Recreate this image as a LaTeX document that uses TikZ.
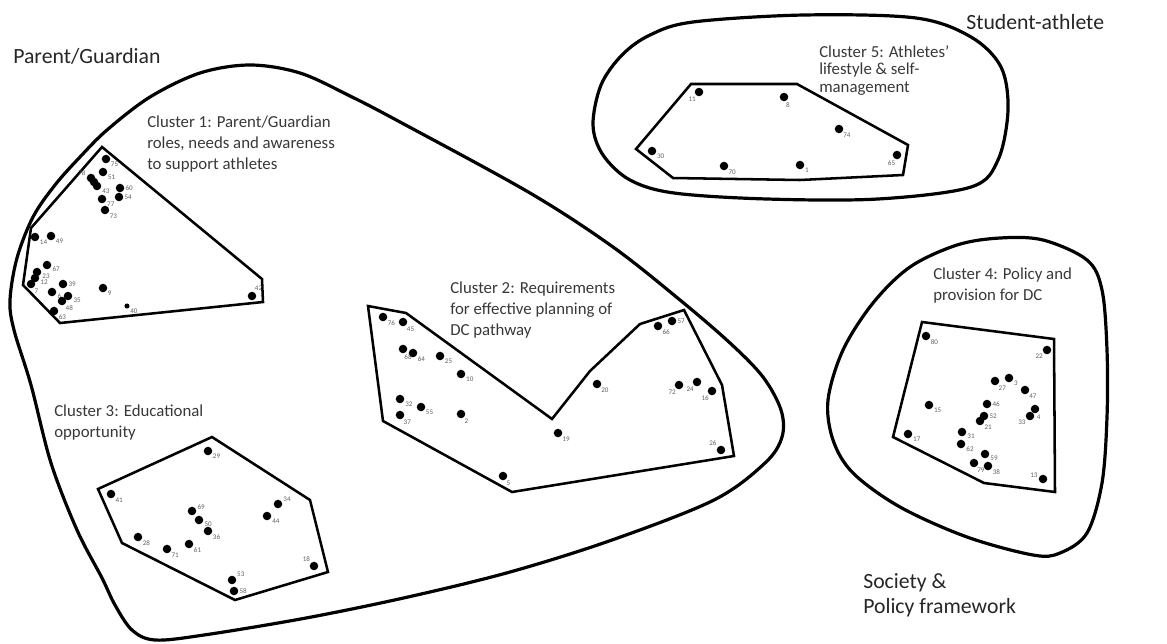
\documentclass[tikz,border=0pt]{standalone}
\usepackage{fontspec}
\setmainfont{Carlito}

\begin{document}
\begin{tikzpicture}[x=0.75pt, y=-0.75pt,
  dot/.style={circle, fill=black, inner sep=0pt, minimum size=6.4pt},
  smalldot/.style={dot, minimum size=3.8pt},
  num/.style={font=\fontsize{5.3}{6}\selectfont, text=black!62, inner sep=0.6pt},
  hull/.style={line width=1.9pt, line join=miter},
  ring/.style={line width=2.4pt},
  cluster/.style={font=\fontsize{12.6}{15.75}\selectfont, text=black!78, align=left, anchor=west, inner sep=0pt},
  group/.style={font=\fontsize{16.3}{19}\selectfont, text=black!85, align=left, anchor=west, inner sep=0pt}]
  \useasboundingbox (0,0) rectangle (1167,643);

  \draw[ring] plot[smooth cycle, tension=0.55] coordinates {
    (10,300) (17,258) (33,217) (55,185) (80,157) (107,130) (150,97) (200,73)
    (250,65) (300,73) (350,96) (400,122) (530,193) (613,247) (680,300)
    (730,343) (763,377) (781,410) (782,437) (765,463) (714,500) (612,540)
    (510,572) (408,597) (306,618) (204,635) (155,640) (132,630) (115,605)
    (102,578) (77,530) (51,463) (31,385) (14,330)};
  \draw[ring] plot[smooth cycle, tension=0.55] coordinates {
    (593,125) (601,85) (622,55) (650,35) (693,22) (804,15) (916,18) (971,37)
    (1001,67) (1008,110) (998,160) (971,187) (878,199) (767,199) (674,193)
    (630,180) (603,155)};
  \draw[ring] plot[smooth cycle, tension=0.55] coordinates {
    (1043,240) (1087,260) (1102,290) (1107,350) (1107,417) (1102,483)
    (1087,533) (1060,553) (1033,555) (967,537) (900,507) (853,473) (833,440)
    (828,400) (843,350) (873,303) (910,267) (957,245) (1000,238)};

  \draw[hull] (102,147) -- (262,279) -- (263,302) -- (60,323) -- (23,285) -- (31,228) -- cycle;
  \draw[hull] (368,306) -- (406,313) -- (552,419) -- (590,371) -- (640,324) -- (684,310)
    -- (722,385) -- (734,456) -- (512,492) -- (383,421) -- cycle;
  \draw[hull] (212,437) -- (310,500) -- (328,572) -- (235,600) -- (122,543) -- (98,489) -- cycle;
  \draw[hull] (922,322) -- (1054,339) -- (1055,492) -- (984,483) -- (893,437) -- cycle;
  \draw[hull] (691,84) -- (797,84) -- (908,145) -- (903,175) -- (800,180) -- (673,178) -- (636,149) -- cycle;

  \foreach \x/\y/\n/\a in {
      106/159/75/-30, 103/172/51/-30, 91/178/78/165, 97/186/43/-20, 120/188/60/0,
      119/197/54/0, 102/199/77/-25, 105/210/73/-35, 35/237/14/-30, 51/236/49/-30,
      47/265/67/-10, 37/272/23/-15, 35/278/12/-10, 31/284/7/-55, 63/284/39/0,
      52/292/6/-10, 68/296/35/-10, 62/301/48/-55, 54/311/63/-35, 103/288/9/-30,
      252/296/42/65,
      383/317/76/-35, 403/322/45/-50, 403/349/68/-85, 413/353/64/-35, 440/356/25/-30,
      461/374/10/-25, 400/399/32/-20, 421/407/55/-30, 400/415/37/-55, 461/414/2/-55,
      658/326/66/-40, 672/321/57/0, 597/384/20/-45, 679/385/72/-120, 697/382/24/-120,
      712/391/16/-120, 558/433/19/-40, 721/450/26/140, 503/476/5/-55,
      208/451/29/-30, 111/494/41/-40, 192/511/69/10, 199/520/50/-10, 208/531/36/-30,
      278/504/34/15, 267/516/44/-20, 138/537/28/-35, 167/549/71/-40, 189/544/61/-30,
      314/566/18/130, 232/580/53/25, 234/591/58/0,
      926/336/80/-35, 1047/350/22/-135, 995/381/27/-55, 1009/378/3/-30, 1025/390/47/-45,
      987/404/46/0, 929/405/15/-30, 1035/409/4/-80, 1030/416/33/-140, 984/416/52/0,
      980/421/21/-40, 962/432/31/-15, 961/444/62/-15, 908/434/17/-25, 985/454/59/-15,
      974/463/79/-60, 988/466/38/-35, 1043/479/13/170,
      699/92/11/-120, 784/97/8/-75, 839/129/74/-45, 652/151/30/-30, 724/166/70/-40,
      800/165/1/-30, 897/155/65/-100} {
    \node[dot, label={[num]\a:\n}] (p\n) at (\x,\y) {};
  }
  \node[dot] (p78b) at (94,182) {};
  \node[smalldot, label={[num]-35:40}] (p40) at (127,306) {};

  \node[cluster] (c1) at (147,144.5) {Cluster 1: Parent/Guardian\\roles, needs and awareness\\to support athletes};
  \node[cluster] (c2) at (450,310.5) {Cluster 2: Requirements\\for effective planning of\\DC pathway};
  \node[cluster] (c3) at (54,422.5) {Cluster 3: Educational\\opportunity};
  \node[cluster] (c4) at (933,285.5) {Cluster 4: Policy and\\provision for DC};
  \node[cluster, font=\fontsize{12.6}{13.3}\selectfont] (c5) at (819,70.5) {Cluster 5: Athletes'\\lifestyle \& self-\\management};

  \node[group] (parent) at (13,56) {Parent/Guardian};
  \node[group] (student) at (966,22) {Student-athlete};
  \node[group, font=\fontsize{16.3}{18.75}\selectfont] (society) at (863,595.5) {Society \&\\Policy framework};
\end{tikzpicture}
\end{document}
